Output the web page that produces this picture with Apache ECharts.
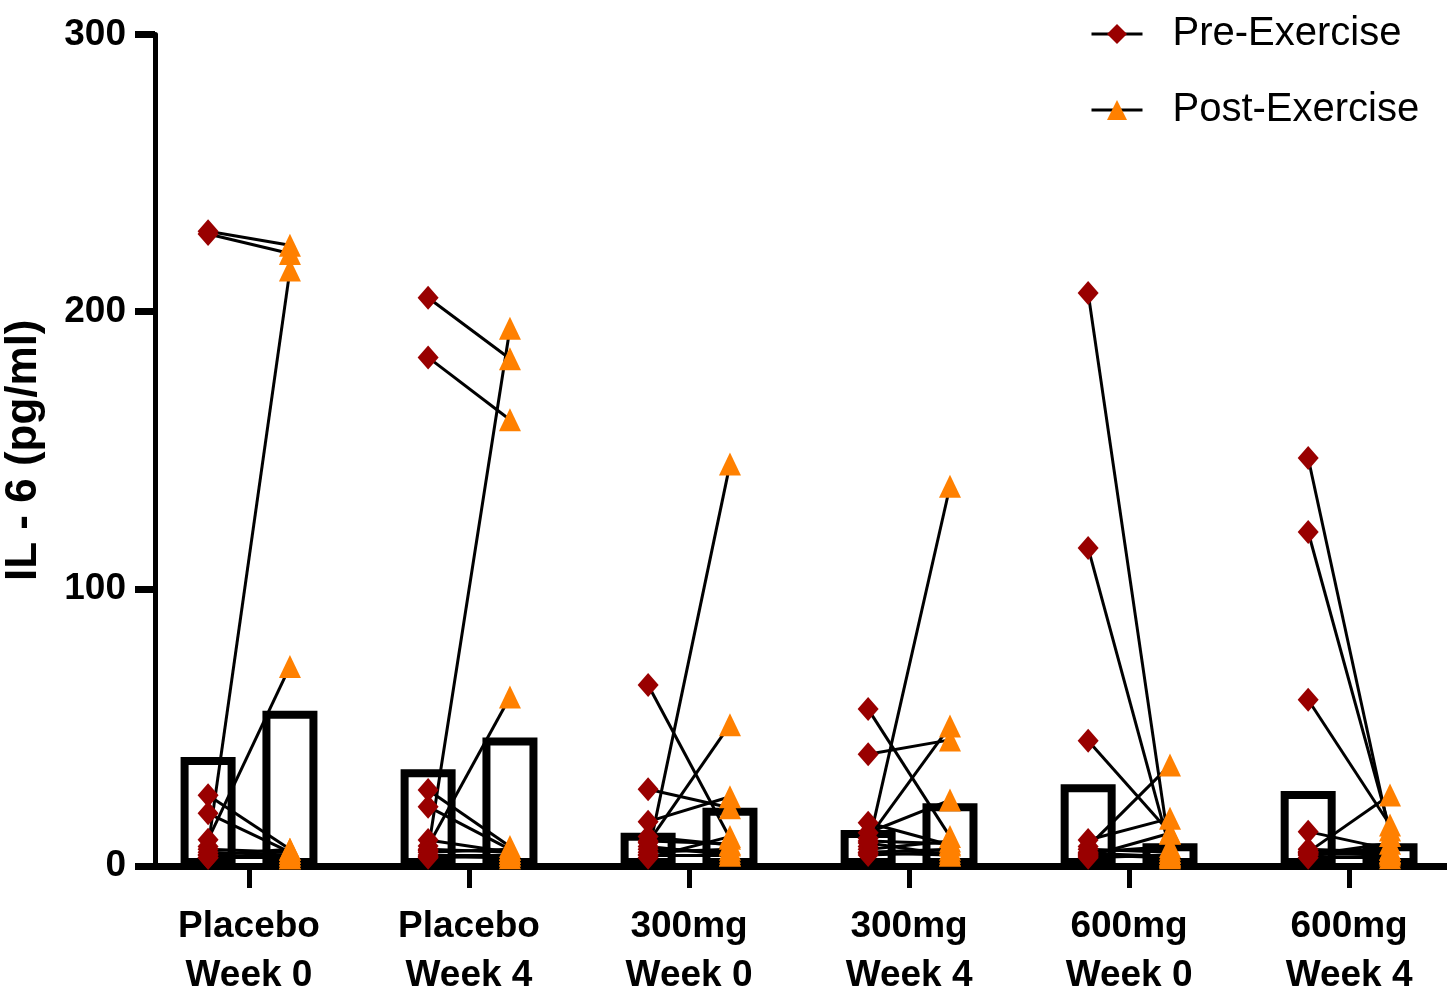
<!DOCTYPE html>
<html>
<head>
<meta charset="utf-8">
<script src="https://cdn.jsdelivr.net/npm/echarts@6/dist/echarts.min.js"></script>
<style>
  html, body { margin: 0; padding: 0; background: #fff; }
  #chart { width: 1447px; height: 993px; }
</style>
</head>
<body>
<div id="chart"></div>
<script>
// Treatment groups along the x axis
const categories = ['Placebo\nWeek 0', 'Placebo\nWeek 4', '300mg\nWeek 0', '300mg\nWeek 4', '600mg\nWeek 0', '600mg\nWeek 4'];

// Group means (hollow bars), IL-6 in pg/ml
const barPre  = [39.3, 34.9, 12.0, 13.0, 29.5, 27.1];
const barPost = [56.0, 46.4, 21.0, 22.6, 8.2, 8.2];

// Individual subjects, paired by index within each group
const prePlaceboW0  = [229, 228, 7, 9.5, 25.5, 19, 5, 4, 3, 6, 4, 3];
const postPlaceboW0 = [224, 221, 215, 72, 6, 5, 4, 3, 3, 5, 6, 4];
const prePlaceboW4  = [205, 183.5, 5.6, 7.2, 27.4, 21.4, 9.4, 4, 3.4, 6, 5, 3];
const postPlaceboW4 = [183, 161, 194, 61, 7, 6, 5, 4, 3, 5, 6, 4];
const pre300W0      = [65.3, 27.7, 4, 8.4, 16, 10.6, 7, 4, 5, 3, 6, 9];
const post300W0     = [10, 21, 145, 51, 25, 7.6, 4, 4, 6, 10.6, 5, 8];
const pre300W4      = [56.6, 40.3, 7, 10, 12, 15.6, 8.3, 4.7, 5, 6, 4, 9];
const post300W4     = [10.6, 45.5, 137, 50.5, 23.8, 7.6, 4, 4, 6, 9, 5, 8];
const pre600W0      = [206.7, 114.7, 45.2, 7, 9.4, 4.6, 5, 4, 3.5, 6, 4, 3];
const post600W0     = [5, 6, 12, 36.4, 17.2, 3.4, 7, 4, 11.8, 5, 3, 4];
const pre600W4      = [147.2, 120.5, 60, 5, 12.4, 5.2, 4, 6, 4.5, 3, 5, 4];
const post600W4     = [11, 13, 14.8, 25.6, 6, 4.6, 8.2, 5, 4, 3, 6, 5];

const yTicks = [0, 100, 200, 300];

const preGroups  = [prePlaceboW0, prePlaceboW4, pre300W0, pre300W4, pre600W0, pre600W4];
const postGroups = [postPlaceboW0, postPlaceboW4, post300W0, post300W4, post600W0, post600W4];

// Horizontal placement of the pre / post columns around each group centre
const OFFSET = 0.186;
const xPre = i => i - OFFSET;
const xPost = i => i + OFFSET;

const boldFont = "'Liberation Sans', Arial, sans-serif";
const plainFont = "'Liberation Sans', Arial, sans-serif";

const barData = [];
categories.forEach((c, i) => {
  barData.push([xPre(i), barPre[i]]);
  barData.push([xPost(i), barPost[i]]);
});

const preData = [], postData = [], pairLines = [];
preGroups.forEach((pre, i) => {
  const post = postGroups[i];
  pre.forEach((v, k) => {
    preData.push([xPre(i), v]);
    postData.push([xPost(i), post[k]]);
    pairLines.push({ coords: [[xPre(i), v], [xPost(i), post[k]]] });
  });
});

const chart = echarts.init(document.getElementById('chart'), null, { renderer: 'canvas' });

chart.setOption({
  animation: false,
  backgroundColor: '#fff',
  grid: { left: 155, right: 0, top: 34.5, bottom: 127, containLabel: false, outerBoundsMode: 'none' },
  legend: {
    orient: 'vertical',
    left: 1090,
    top: 14,
    padding: 0,
    itemWidth: 51,
    itemHeight: 25,
    itemGap: 36,
    data: ['Pre-Exercise', 'Post-Exercise'],
    lineStyle: { color: '#000', width: 3, opacity: 1 },
    textStyle: {
      fontFamily: plainFont,
      fontSize: 40,
      color: '#000',
      lineHeight: 40,
      padding: [0, 0, 0, 25]
    }
  },
  xAxis: {
    type: 'value',
    min: -0.4273,
    max: 5.445,
    axisLine: { show: true, onZero: false, lineStyle: { color: '#000', width: 7 } },
    axisTick: {
      show: true,
      customValues: [0, 1, 2, 3, 4, 5],
      length: 22,
      lineStyle: { color: '#000', width: 5 }
    },
    axisLabel: {
      customValues: [0, 1, 2, 3, 4, 5],
      formatter: v => categories[Math.round(v)],
      fontFamily: boldFont,
      fontWeight: 'bold',
      fontSize: 37,
      lineHeight: 49,
      color: '#000',
      margin: 36
    },
    splitLine: { show: false }
  },
  yAxis: {
    type: 'value',
    min: yTicks[0],
    max: yTicks[yTicks.length - 1],
    interval: 100,
    name: 'IL - 6 (pg/ml)',
    nameLocation: 'middle',
    nameRotate: 90,
    nameGap: 109,
    nameTextStyle: {
      fontFamily: plainFont,
      fontWeight: 'bold',
      fontSize: 44,
      color: '#000'
    },
    axisLine: { show: true, onZero: false, lineStyle: { color: '#000', width: 5 } },
    axisTick: { show: true, length: 20, lineStyle: { color: '#000', width: 7 } },
    axisLabel: {
      fontFamily: boldFont,
      fontWeight: 'bold',
      fontSize: 37,
      color: '#000',
      margin: 29
    },
    splitLine: { show: false }
  },
  series: [
    {
      name: 'Means',
      type: 'bar',
      data: barData,
      barWidth: 55,
      z: 1,
      itemStyle: { color: 'rgba(255,255,255,0)', borderColor: '#000', borderWidth: 8 }
    },
    {
      name: 'Pairs',
      type: 'lines',
      coordinateSystem: 'cartesian2d',
      z: 2,
      lineStyle: { color: '#000', width: 3, opacity: 1 },
      data: pairLines
    },
    {
      name: 'Pre-Exercise',
      type: 'line',
      data: preData,
      z: 3,
      symbol: 'diamond',
      symbolSize: [21, 24],
      showAllSymbol: true,
      color: '#990000',
      itemStyle: { color: '#990000' },
      lineStyle: { opacity: 0, width: 0.01 }
    },
    {
      name: 'Post-Exercise',
      type: 'line',
      data: postData,
      z: 4,
      symbol: 'triangle',
      symbolSize: [22, 23],
      showAllSymbol: true,
      color: '#ff8000',
      itemStyle: { color: '#ff8000' },
      lineStyle: { opacity: 0, width: 0.01 }
    }
  ]
});
</script>
</body>
</html>
